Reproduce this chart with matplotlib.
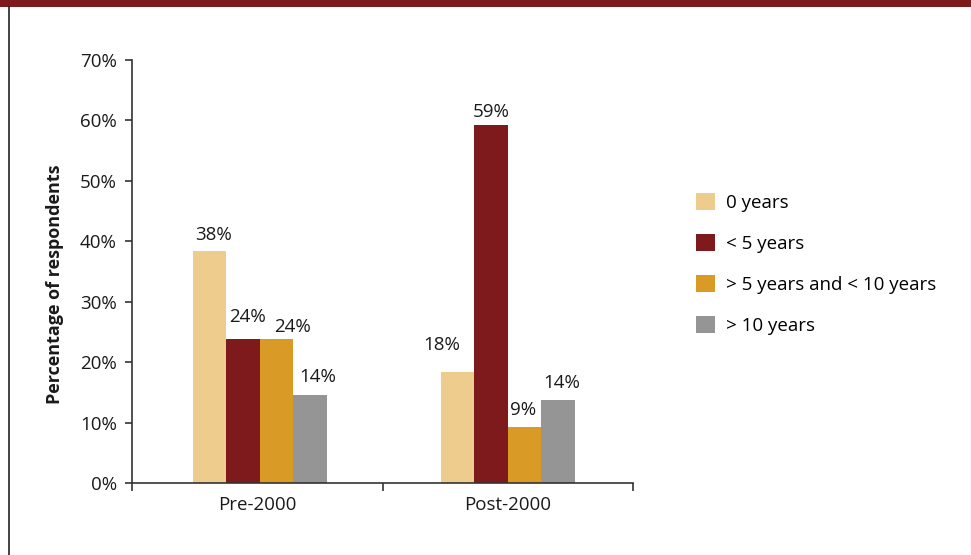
import matplotlib
matplotlib.use('Agg')
import matplotlib.pyplot as plt
import numpy as np
from matplotlib.patches import Rectangle, Patch
from matplotlib.lines import Line2D

plt.rcParams['font.family'] = ['Open Sans', 'DejaVu Sans']

# ── data ────────────────────────────────────────────────────────────────
periods = ['Pre-2000', 'Post-2000']
series = ['0 years', '< 5 years', '> 5 years and < 10 years', '> 10 years']
values = [
    [38.4, 18.4],   # 0 years
    [23.9, 59.3],   # < 5 years
    [23.9, 9.3],    # > 5 and < 10 years
    [14.6, 13.7],   # > 10 years
]
labels = [
    ['38%', '18%'],
    ['24%', '59%'],
    ['24%', '9%'],
    ['14%', '14%'],
]
yticks = [0, 10, 20, 30, 40, 50, 60, 70]

# ── styles ──────────────────────────────────────────────────────────────
colors = ['#EECC8E', '#7E1A1C', '#DA9A26', '#959595']
BAND = '#7F1A1C'
AXC = '#333333'
TXT = '#1a1a1a'
FS = 13.5
BAR_W = 0.134
# manual nudges of the value labels (pixels), per series / period
label_dx = [[4, -16], [5, 0], [16, -1], [8, 4]]
label_dy = [[16, 27], [22, 13], [12, 17], [18, 17]]

fig = plt.figure(figsize=(9.71, 5.55), dpi=100)
fig.patches.append(Rectangle((0, 1 - 7 / 555), 1, 7 / 555, transform=fig.transFigure,
                             facecolor=BAND, edgecolor='none', zorder=0))
fig.lines.append(Line2D([8.5 / 971, 8.5 / 971], [0, 1 - 7 / 555], transform=fig.transFigure,
                        color='#222222', lw=1.2))

ax = fig.add_axes([132 / 971, 1 - 483 / 555, (633 - 132) / 971, (483 - 60) / 555])

# group centres (the left group sits a touch right of its slot in the original)
centers = np.array([0.51, 1.5])
for i, (name, vals) in enumerate(zip(series, values)):
    xs = centers + (i - 1.5) * BAR_W
    ax.bar(xs, vals, width=BAR_W, color=colors[i], edgecolor='none', label=name)
    for j, v in enumerate(vals):
        ax.annotate(labels[i][j], (xs[j], v), xytext=(label_dx[i][j], label_dy[i][j]),
                    textcoords='offset pixels', ha='center', va='center',
                    fontsize=FS, color=TXT)

ax.set_xlim(0, len(periods))
ax.set_ylim(0, 70)
ax.set_yticks(yticks)
ax.set_yticklabels([f'{t}%' for t in yticks], fontsize=FS, color=TXT)
ax.set_xticks(np.arange(len(periods) + 1))
ax.set_xticklabels([])
ax.set_xticks(np.arange(len(periods)) + 0.5, minor=True)
ax.set_xticklabels(periods, minor=True, fontsize=FS, color=TXT)
ax.tick_params(axis='x', which='minor', length=0, pad=9)
ax.tick_params(axis='x', which='major', length=6, width=1.2, color=AXC, direction='out')
ax.tick_params(axis='y', length=5, width=1.2, color=AXC, direction='out', pad=6)

for s in ['top', 'right']:
    ax.spines[s].set_visible(False)
for s in ['left', 'bottom']:
    ax.spines[s].set_color(AXC)
    ax.spines[s].set_linewidth(1.2)

ax.set_ylabel('Percentage of respondents', fontsize=13, fontweight='bold', color=TXT)
ax.yaxis.set_label_coords(-68 / 501, 0.47)

handles = [Patch(facecolor=c, edgecolor='none') for c in colors]
fig.legend(handles, series, loc='upper left', bbox_to_anchor=(696 / 971, 1 - 193 / 555),
           frameon=False, fontsize=FS, handlelength=1.0, handleheight=1.0,
           labelspacing=1.19, handletextpad=0.6, borderaxespad=0, borderpad=0)

plt.savefig('out.png', dpi=100)
